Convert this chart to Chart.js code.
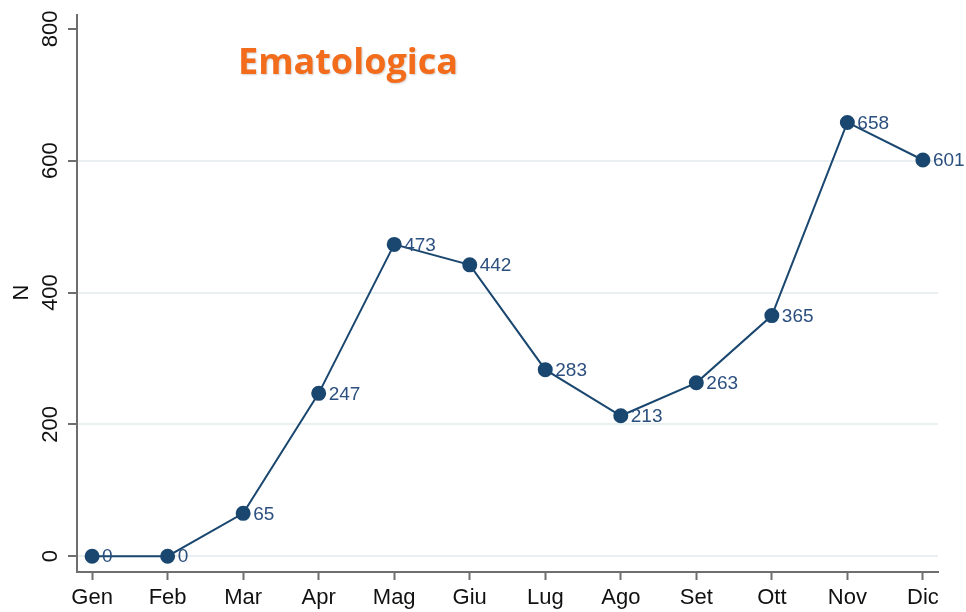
<!DOCTYPE html>
<html>
<head>
<meta charset="utf-8">
<script src="https://cdn.jsdelivr.net/npm/chart.js@4.4.1/dist/chart.umd.min.js"></script>
<style>
html,body{margin:0;padding:0;background:#fff;}
#wrap{width:966px;height:612px;position:relative;}
</style>
</head>
<body>
<div id="wrap"><canvas id="c" width="966" height="612"></canvas></div>
<script>
const months = ['Gen','Feb','Mar','Apr','Mag','Giu','Lug','Ago','Set','Ott','Nov','Dic'];
const counts = [0, 0, 65, 247, 473, 442, 283, 213, 263, 365, 658, 601];
const yTicks = [0, 200, 400, 600, 800];
const chartTitle = 'Ematologica';
const yTitle = 'N';

const navy = '#1a476f';
const axisGray = '#6e6e6e';
const gridColor = '#e8f0f2';

const overlay = {
  id: 'overlay',
  afterDatasetsDraw(chart) {
    const ctx = chart.ctx;
    const meta = chart.getDatasetMeta(0);
    ctx.save();
    ctx.fillStyle = '#2b4f7e';
    ctx.font = '19px "Liberation Sans", Arial, sans-serif';
    ctx.textAlign = 'left';
    ctx.textBaseline = 'middle';
    meta.data.forEach((pt, i) => {
      ctx.fillText(String(counts[i]), pt.x + 10, pt.y + 1);
    });
    ctx.restore();
  },
  afterDraw(chart) {
    const ctx = chart.ctx;
    const ys = chart.scales.y;
    ctx.save();
    ctx.fillStyle = '#111';
    ctx.font = '22px "Liberation Sans", Arial, sans-serif';
    ctx.textAlign = 'center';
    ctx.textBaseline = 'middle';
    yTicks.forEach(v => {
      const y = ys.getPixelForValue(v);
      ctx.save();
      ctx.translate(51, y);
      ctx.rotate(-Math.PI / 2);
      ctx.fillText(String(v), 0, 0);
      ctx.restore();
    });
    // y title
    ctx.save();
    ctx.translate(22, ys.getPixelForValue(400));
    ctx.rotate(-Math.PI / 2);
    ctx.fillText(yTitle, 0, 0);
    ctx.restore();
    // chart title
    ctx.font = 'bold 36px "Open Sans", sans-serif';
    ctx.shadowColor = 'rgba(0,0,0,0.18)';
    ctx.shadowOffsetX = 1;
    ctx.shadowOffsetY = 1;
    ctx.shadowBlur = 2;
    ctx.fillStyle = '#f26c1c';
    ctx.textBaseline = 'alphabetic';
    ctx.fillText(chartTitle, 348, 74);
    ctx.restore();
  }
};

new Chart(document.getElementById('c'), {
  type: 'line',
  data: {
    datasets: [{
      data: counts.map((v, i) => ({x: i, y: v})),
      borderColor: navy,
      backgroundColor: navy,
      borderWidth: 2,
      pointRadius: 6.5,
      pointHoverRadius: 6.5,
      pointBackgroundColor: navy,
      pointBorderColor: navy,
      tension: 0,
      fill: false
    }]
  },
  options: {
    responsive: false,
    animation: false,
    events: [],
    layout: {padding: {top: 15, right: 28, left: 0, bottom: 0}},
    plugins: {legend: {display: false}, tooltip: {enabled: false}, title: {display: false}},
    scales: {
      x: {
        type: 'linear',
        min: -0.2,
        max: 11.2,
        afterBuildTicks: s => { s.ticks = months.map((m, i) => ({value: i})); },
        afterFit: s => { s.height = 40; },
        ticks: {
          callback: (v) => months[v],
          color: '#111',
          font: {family: '"Liberation Sans", Arial, sans-serif', size: 22},
          padding: 5,
          maxRotation: 0,
          minRotation: 0,
          autoSkip: false
        },
        grid: {drawOnChartArea: false, drawTicks: true, tickLength: 8, tickColor: axisGray, tickWidth: 2},
        border: {display: true, color: axisGray, width: 2}
      },
      y: {
        type: 'linear',
        min: -24,
        max: 821,
        afterBuildTicks: s => { s.ticks = yTicks.map(v => ({value: v})); },
        afterFit: s => { s.width = 77; },
        ticks: {display: false},
        grid: {
          drawOnChartArea: true,
          color: ctx => (ctx.tick && ctx.tick.value === 800) ? 'rgba(0,0,0,0)' : gridColor,
          lineWidth: 2,
          drawTicks: true,
          tickLength: 9,
          tickColor: axisGray,
          tickWidth: 2
        },
        border: {display: true, color: axisGray, width: 2}
      }
    }
  },
  plugins: [overlay]
});
</script>
</body>
</html>
